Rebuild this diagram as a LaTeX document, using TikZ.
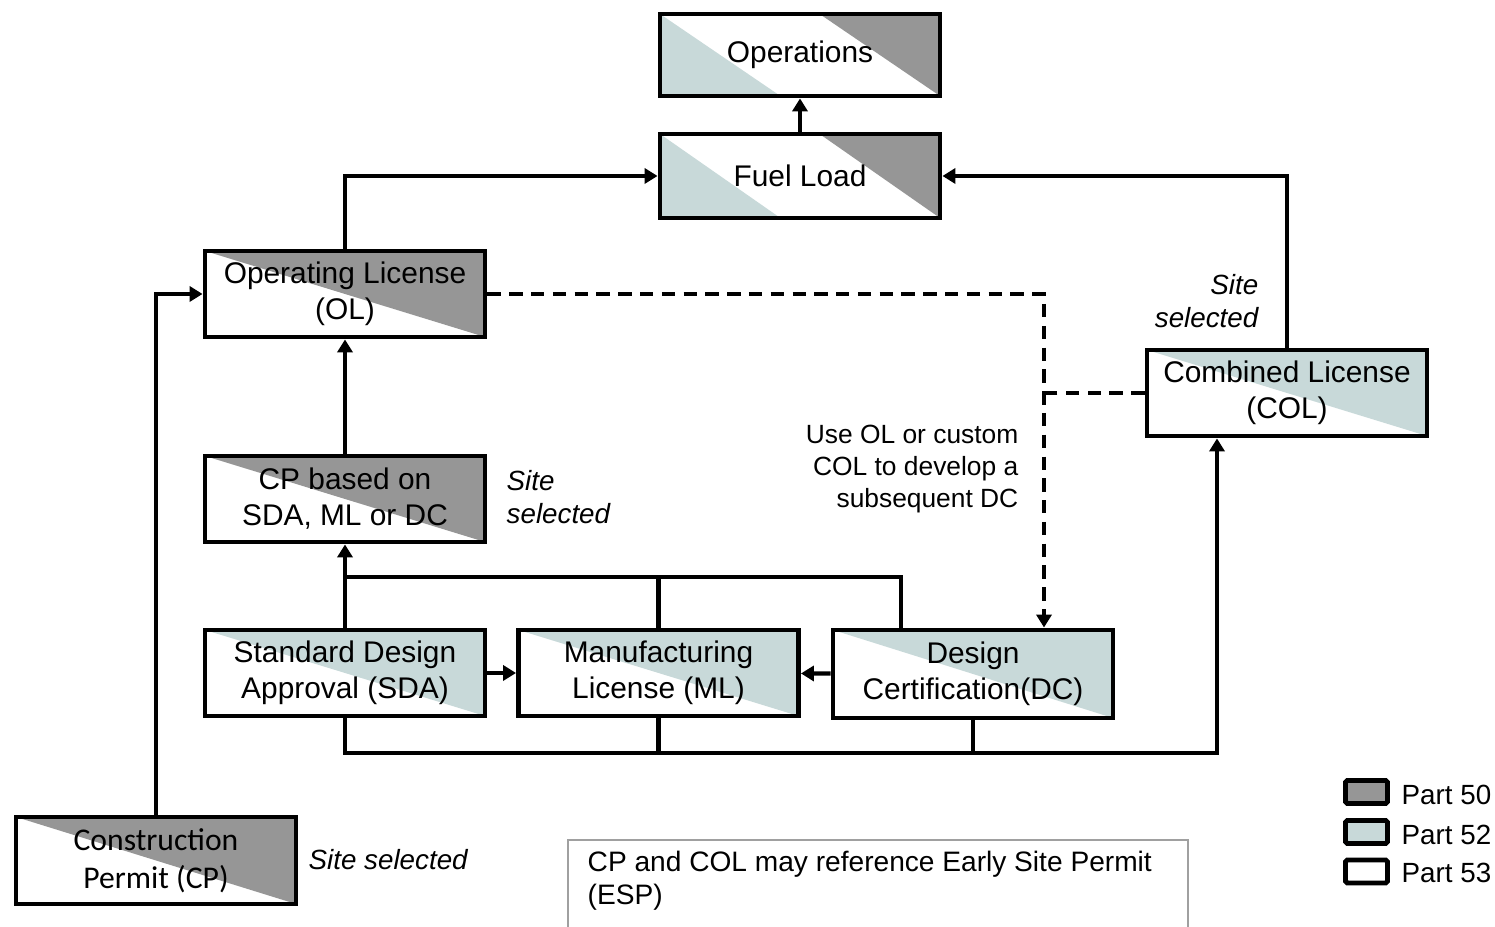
\documentclass[tikz,border=0pt]{standalone}
\usepackage{fontspec}
\setmainfont{Liberation Sans}
\newfontfamily\calibri{Carlito}
\usetikzlibrary{arrows.meta,calc}
\definecolor{pfifty}{RGB}{150,150,150}
\definecolor{pfiftytwo}{RGB}{200,217,217}
\definecolor{notegray}{RGB}{160,160,160}

\begin{document}
\begin{tikzpicture}[
  box/.style={draw, line width=1.4pt, minimum width=2.8cm, minimum height=0.86cm,
    inner sep=0pt, align=center, font=\fontsize{8.5}{10.2}\selectfont},
  grayfill/.style={path picture={\fill[pfifty] (path picture bounding box.north west)
    -- (path picture bounding box.north east) -- (path picture bounding box.south east) -- cycle;}},
  tealfill/.style={path picture={\fill[pfiftytwo] (path picture bounding box.north west)
    -- (path picture bounding box.north east) -- (path picture bounding box.south east) -- cycle;}},
  bothfill/.style={path picture={
    \fill[pfiftytwo] (path picture bounding box.north west) -- (path picture bounding box.south west)
      -- ($(path picture bounding box.south west)!0.43!(path picture bounding box.south east)$) -- cycle;
    \fill[pfifty] ($(path picture bounding box.north west)!0.57!(path picture bounding box.north east)$)
      -- (path picture bounding box.north east) -- (path picture bounding box.south east) -- cycle;}},
  legbox/.style={draw, line width=1.4pt, rounded corners=0.5pt, minimum width=0.42cm, minimum height=0.23cm, inner sep=0pt},
  line/.style={line width=1.2pt},
  conn/.style={line, -{Triangle[length=3.7pt,width=4.3pt]}},
  dashline/.style={dash pattern=on 3.8pt off 2.4pt},
  sitetext/.style={inner sep=0pt, font=\fontsize{7.9}{9.2}\selectfont\itshape},
  plaintext/.style={inner sep=0pt, font=\fontsize{7.5}{9.1}\selectfont}
]
\useasboundingbox (0,0) rectangle (14.95,9.27);

\node[box, bothfill, minimum height=0.82cm] (ops) at (8.00,8.72) {Operations};
\node[box, bothfill, minimum height=0.84cm] (fuel) at (8.00,7.51) {Fuel Load};
\node[box, grayfill] (ol) at (3.45,6.33) {Operating License\\(OL)};
\node[box, grayfill] (cpb) at (3.45,4.28) {CP based on\\SDA, ML or DC};
\node[box, tealfill] (sda) at (3.45,2.54) {Standard Design\\Approval (SDA)};
\node[box, tealfill] (ml) at (6.585,2.54) {Manufacturing\\License (ML)};
\node[box, tealfill, minimum height=0.88cm] (dc) at (9.73,2.53) {Design\\Certification(DC)};
\node[box, tealfill] (col) at (12.87,5.34) {Combined License\\(COL)};
\node[box, grayfill, minimum height=0.87cm, font=\calibri\fontsize{9}{10.8}\selectfont] (cp) at (1.56,0.665) {Construction\\Permit (CP)};

\coordinate (topbus) at (9.01,3.50);
\coordinate (botbus) at (12.17,1.74);
\coordinate (djoin) at (10.44,6.33);

\draw[conn] (ol.north) |- (fuel.west);
\draw[conn] (col.north) |- (fuel.east);
\draw[conn] (fuel) -- (ops);
\draw[conn] (cp.north) |- (ol.west);
\draw[conn] (cpb) -- (ol);
\draw[line] (dc.north -| topbus) -- (topbus) -| (sda.north);
\draw[line] (ml.north) -- (ml.north |- topbus);
\draw[conn] (sda.north) -- (cpb.south);
\draw[conn] (sda) -- (ml);
\draw[conn] (dc) -- (ml);
\draw[conn] (sda.south) |- (botbus) -- (col.south -| botbus);
\draw[line] (ml.south) -- (ml.south |- botbus);
\draw[line] (dc.south) -- (dc.south |- botbus);
\draw[conn, dashline] (ol.east) -| (dc.north -| djoin);
\draw[line, dashline] (col.west) -- (col.west -| djoin);

\node[sitetext, anchor=west] (site1) at (3.08,0.67) {Site selected};
\node[sitetext, anchor=west, align=left] (site2) at (5.06,4.30) {Site\\selected};
\node[sitetext, anchor=east, align=right] (site3) at (12.59,6.26) {Site\\selected};
\node[plaintext, anchor=east, align=right] (usetext) at (10.19,4.58) {Use OL or custom\\COL to develop a\\subsequent DC};

\node[legbox, fill=pfifty] (l50) at (13.665,1.35) {};
\node[legbox, fill=pfiftytwo] (l52) at (13.665,0.95) {};
\node[legbox, fill=white] (l53) at (13.665,0.555) {};
\node[plaintext, font=\fontsize{7.9}{9}\selectfont, anchor=west] (t50) at (14.01,1.32) {Part 50};
\node[plaintext, font=\fontsize{7.9}{9}\selectfont, anchor=west] (t52) at (14.01,0.92) {Part 52};
\node[plaintext, font=\fontsize{7.9}{9}\selectfont, anchor=west] (t53) at (14.01,0.54) {Part 53};

\draw[notegray, line width=0.4pt] (5.68,0) -- (5.68,0.87) -- (11.88,0.87) -- (11.88,0);
\node[plaintext, font=\fontsize{8}{9.4}\selectfont, anchor=north west, align=left] (esp) at (5.87,0.77) {CP and COL may reference Early Site Permit\\(ESP)};
\end{tikzpicture}
\end{document}
